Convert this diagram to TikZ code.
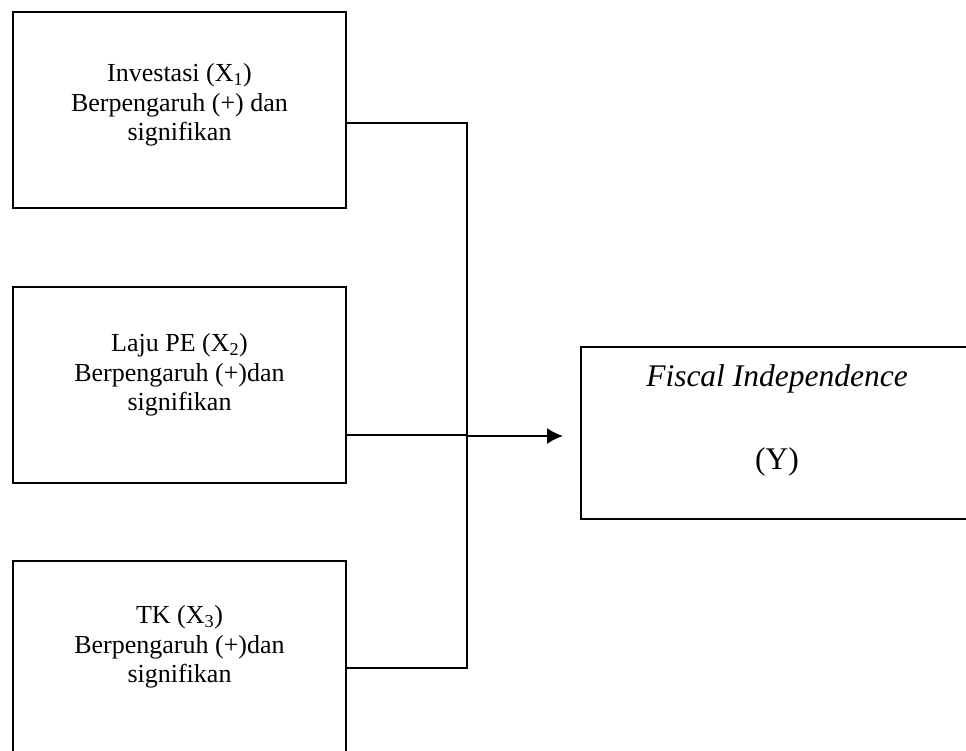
\documentclass[tikz,border=0pt]{standalone}
\usepackage{fontspec}
\setmainfont{Liberation Serif}
\usetikzlibrary{arrows.meta}
\begin{document}
\begin{tikzpicture}[x=1pt,y=-1pt, line width=1.9pt,
  boxnode/.style={draw, rectangle, minimum width=333pt, minimum height=196pt, inner sep=0pt},
  txt/.style={align=center, font=\fontsize{26}{29.5}\selectfont, inner sep=0pt},
  ytxt/.style={align=center, font=\fontsize{31.5}{36}\selectfont, inner sep=0pt},
  conn/.style={line width=1.9pt},
  arr/.style={conn, -{Latex[length=16pt,width=16pt]}}]
\useasboundingbox (0,0) rectangle (966,751);
\clip (0,0) rectangle (966,751);
% boxes
\node[boxnode] (b1) at (179.5,110) {};
\node[boxnode] (b2) at (179.5,385) {};
\node[boxnode] (b3) at (179.5,659) {};
\node[draw, rectangle, minimum width=394pt, minimum height=172pt, inner sep=0pt] (yb) at (778,433) {};
% texts
\node[txt] (t1) at (179.5,105) {Investasi (X\textsubscript{1})\\Berpengaruh (+) dan\\signifikan};
\node[txt] (t2) at (179.5,375) {Laju PE (X\textsubscript{2})\\Berpengaruh (+)dan\\signifikan};
\node[txt] (t3) at (179.5,647) {TK (X\textsubscript{3})\\Berpengaruh (+)dan\\signifikan};
\node[ytxt] (ty1) at (777,379) {\itshape Fiscal Independence};
\node[ytxt] (ty2) at (777,462) {(Y)};
% connectors
\coordinate (j1) at (467,123);
\coordinate (j2) at (467,435);
\coordinate (j3) at (467,668);
\coordinate (tip) at (563,436);
\draw[conn] (b1.east |- j1) -- (j1) -- (j3) -- (b3.east |- j3);
\draw[conn] (b2.east |- j2) -- (j2);
\draw[arr] (j2 |- tip) -- (tip);
\end{tikzpicture}
\end{document}
